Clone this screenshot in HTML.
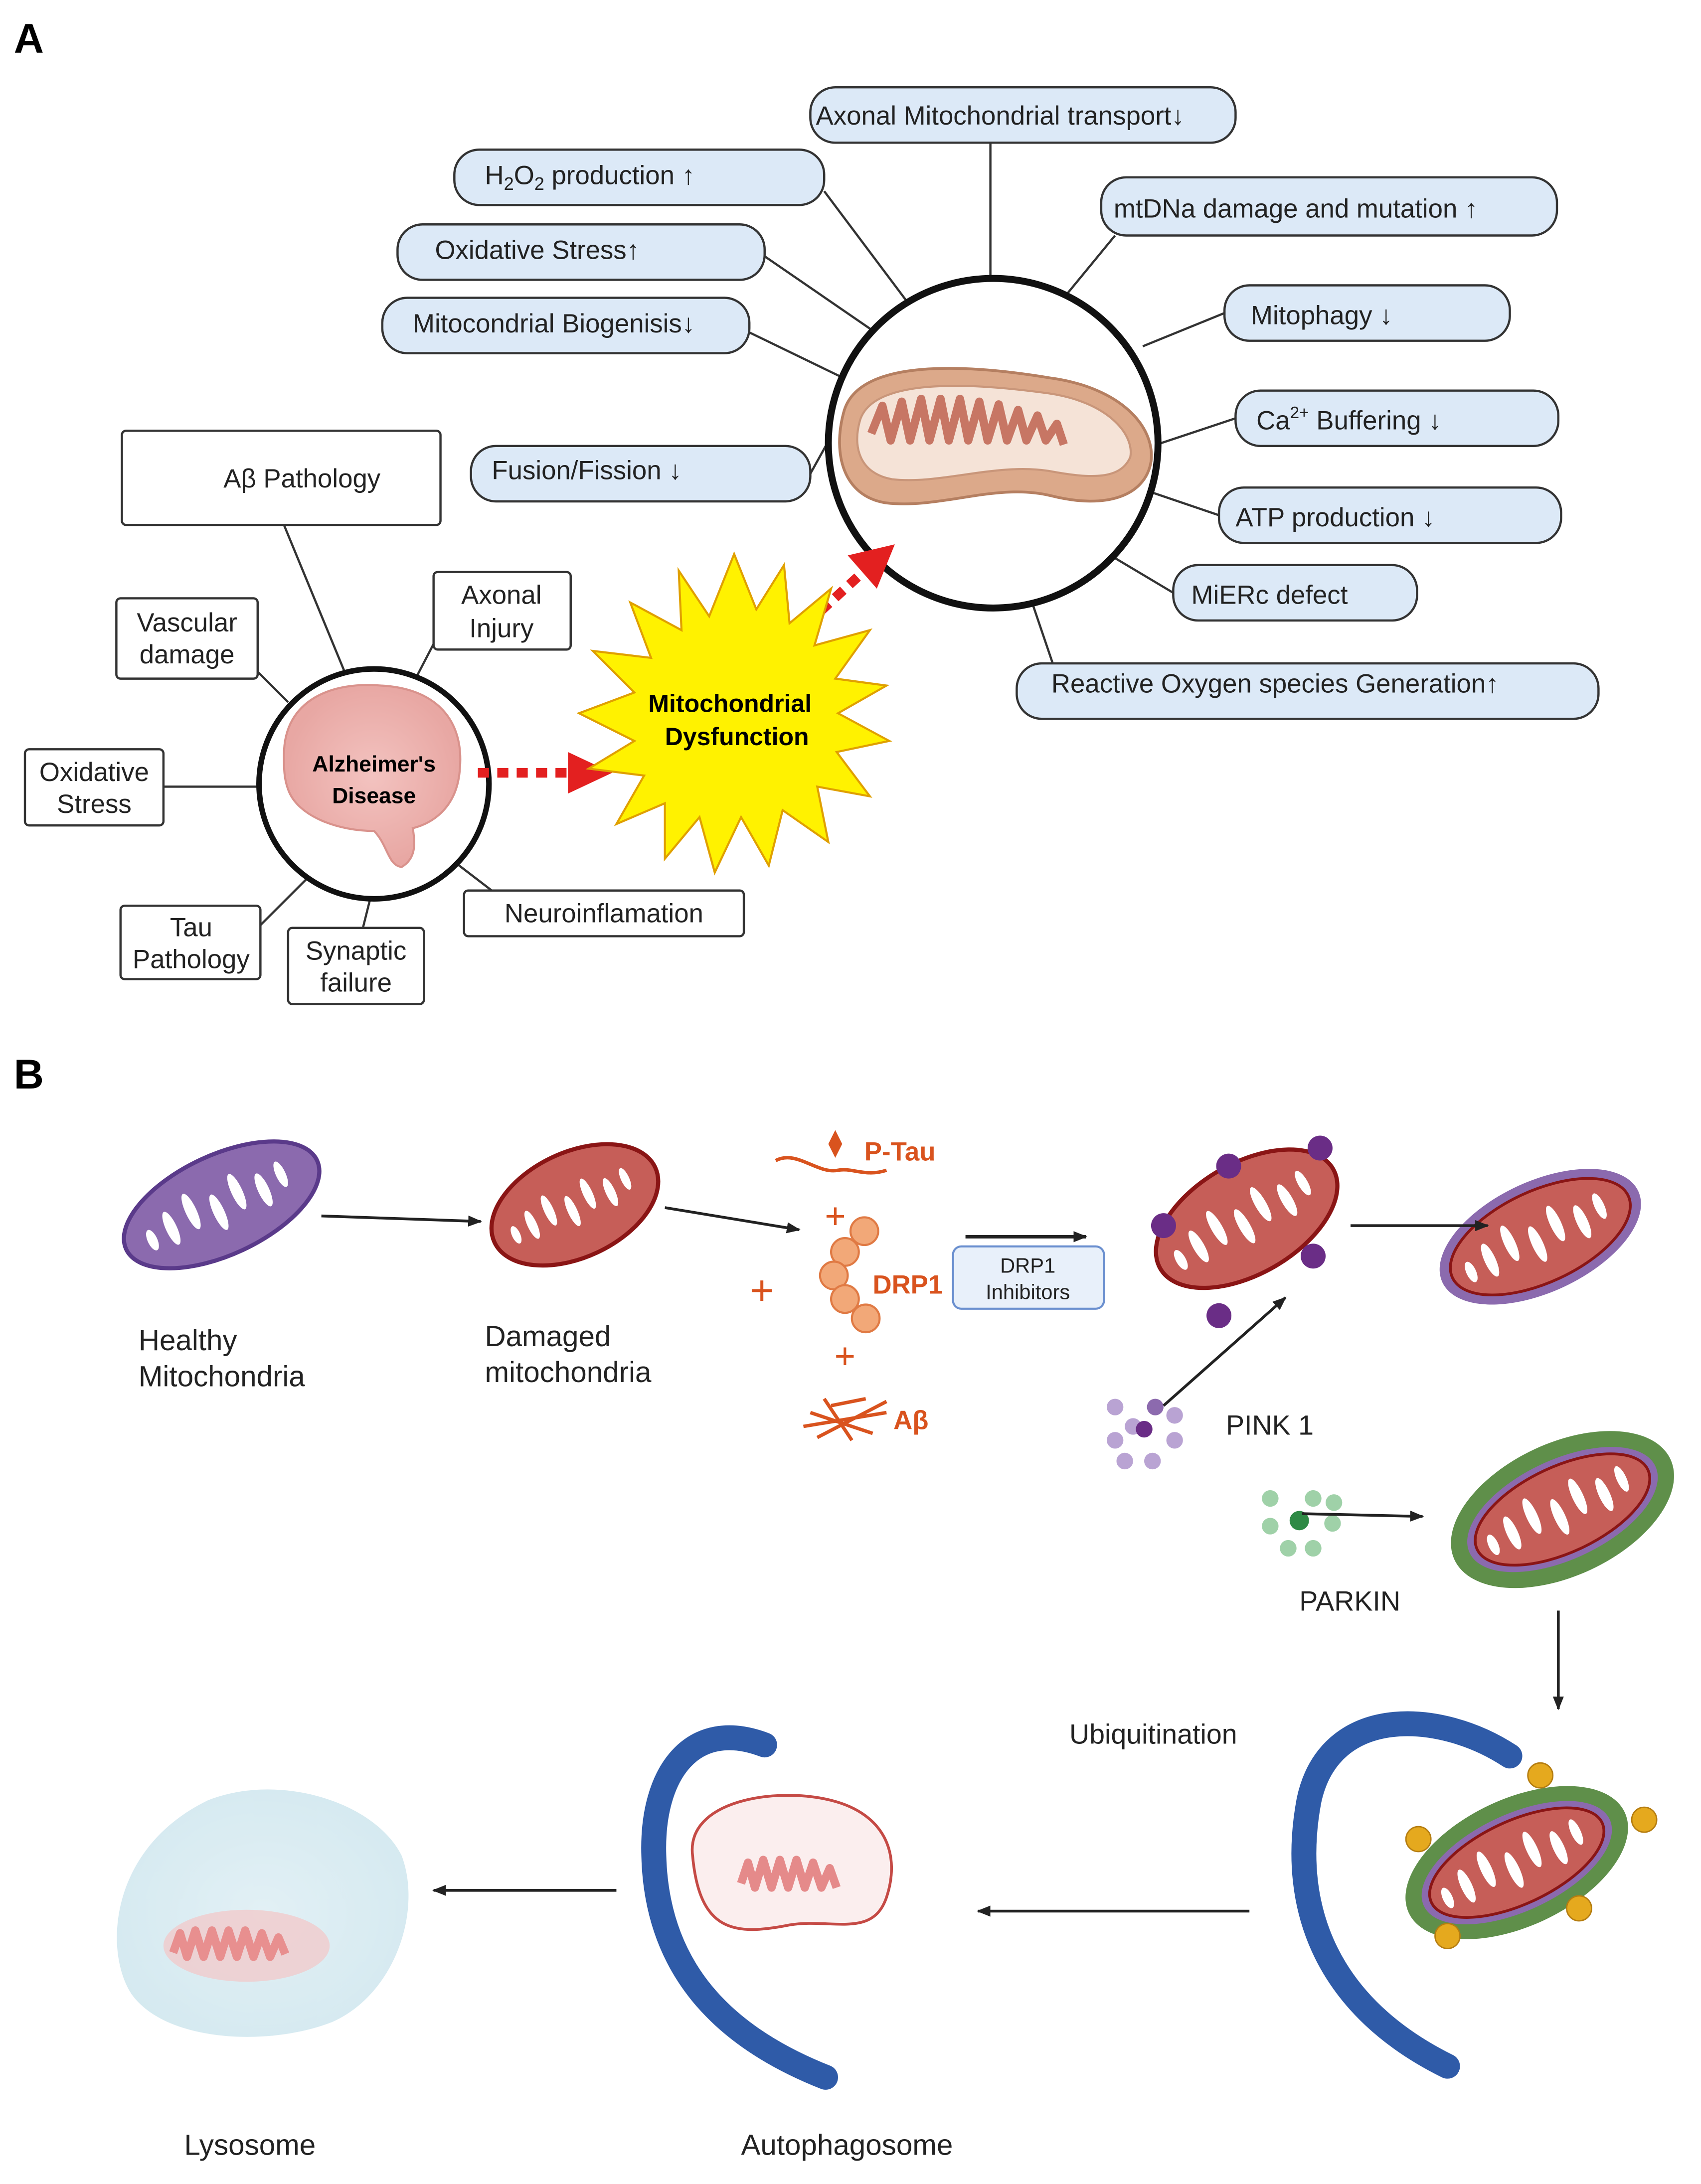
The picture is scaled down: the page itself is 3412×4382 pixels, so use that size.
<!DOCTYPE html>
<html><head><meta charset="utf-8"><style>
html,body{margin:0;padding:0;background:#fff;}
svg{display:block;}
text{font-family:"Liberation Sans",sans-serif;}
</style></head><body>
<svg width="3412" height="4382" viewBox="0 0 1228 1577" xmlns="http://www.w3.org/2000/svg">
<defs>
<marker id="ah" markerWidth="10" markerHeight="8" refX="9" refY="4" orient="auto" markerUnits="userSpaceOnUse"><path d="M0,0 L10,4 L0,8 z" fill="#222"/></marker>
<radialGradient id="lys" cx="50%" cy="50%" r="60%"><stop offset="0" stop-color="#e2f0f5"/><stop offset="1" stop-color="#d4e9f0"/></radialGradient>
<radialGradient id="brain" cx="50%" cy="50%" r="50%"><stop offset="0" stop-color="#f3c3c0"/><stop offset="1" stop-color="#e8a7a3"/></radialGradient>
<g id="spots" fill="#fff">
<ellipse cx="-40" cy="0" rx="4" ry="13"/><ellipse cx="-22" cy="-5" rx="4" ry="14"/><ellipse cx="-4" cy="4" rx="4" ry="14"/><ellipse cx="14" cy="-4" rx="4" ry="14"/><ellipse cx="32" cy="3" rx="4" ry="13"/><ellipse cx="48" cy="-2" rx="3.5" ry="10"/><ellipse cx="-56" cy="2" rx="3.5" ry="8"/>
</g>
</defs>

<text x="10" y="38" font-size="30" font-weight="bold">A</text>

<g stroke="#333" stroke-width="1.6" fill="none">
<line x1="715" y1="103" x2="715" y2="205"/>
<line x1="595" y1="138" x2="658" y2="222"/>
<line x1="552" y1="185" x2="632" y2="240"/>
<line x1="541" y1="240" x2="607" y2="272"/>
<line x1="585" y1="342" x2="600" y2="315"/>
<line x1="805" y1="170" x2="768" y2="215"/>
<line x1="884" y1="226" x2="825" y2="250"/>
<line x1="892" y1="302" x2="838" y2="320"/>
<line x1="880" y1="372" x2="830" y2="355"/>
<line x1="847" y1="428" x2="800" y2="400"/>
<line x1="760" y1="479" x2="740" y2="420"/>
<line x1="205" y1="379" x2="250" y2="488"/>
<line x1="186" y1="485" x2="208" y2="507"/>
<line x1="313" y1="465" x2="300" y2="490"/>
<line x1="118" y1="568" x2="187" y2="568"/>
<line x1="188" y1="668" x2="228" y2="628"/>
<line x1="262" y1="670" x2="270" y2="638"/>
<line x1="355" y1="643" x2="325" y2="620"/>
</g>

<g fill="#dce9f7" stroke="#333" stroke-width="1.6">
<rect x="585" y="63" width="307" height="40" rx="18"/>
<rect x="328" y="108" width="267" height="40" rx="18"/>
<rect x="287" y="162" width="265" height="40" rx="18"/>
<rect x="276" y="215" width="265" height="40" rx="18"/>
<rect x="340" y="322" width="245" height="40" rx="18"/>
<rect x="795" y="128" width="329" height="42" rx="18"/>
<rect x="884" y="206" width="206" height="40" rx="18"/>
<rect x="892" y="282" width="233" height="40" rx="18"/>
<rect x="880" y="352" width="247" height="40" rx="18"/>
<rect x="847" y="408" width="176" height="40" rx="18"/>
<rect x="734" y="479" width="420" height="40" rx="18"/>
</g>
<g font-size="19" fill="#222">
<text x="589" y="90">Axonal Mitochondrial transport↓</text>
<text x="350" y="133">H<tspan font-size="13" dy="4">2</tspan><tspan dy="-4">O</tspan><tspan font-size="13" dy="4">2</tspan><tspan dy="-4"> production        ↑</tspan></text>
<text x="314" y="187">Oxidative Stress↑</text>
<text x="298" y="240">Mitocondrial Biogenisis↓</text>
<text x="355" y="346">Fusion/Fission    ↓</text>
<text x="804" y="157">mtDNa damage and mutation  ↑</text>
<text x="903" y="234">Mitophagy  ↓</text>
<text x="907" y="310">Ca<tspan font-size="12" dy="-8">2+</tspan><tspan dy="8"> Buffering  ↓</tspan></text>
<text x="892" y="380">ATP production  ↓</text>
<text x="860" y="436">MiERc defect</text>
<text x="759" y="500">Reactive Oxygen species Generation↑</text>
</g>

<circle cx="717" cy="320" r="119" fill="#fff" stroke="#111" stroke-width="5"/>
<g transform="translate(719,318)">
<path d="M-110,-20 C-100,-60 -20,-55 40,-45 C90,-38 115,-10 112,15 C108,40 80,50 40,40 C0,30 -40,50 -80,45 C-110,40 -118,10 -110,-20 z" fill="#dca98a" stroke="#b57f61" stroke-width="2"/>
<path d="M-98,-15 C-88,-45 -20,-42 38,-34 C80,-28 100,-5 97,12 C90,28 70,28 38,22 C0,16 -40,32 -75,28 C-98,24 -104,5 -98,-15 z" fill="#f5e3d7" stroke="#c9967a" stroke-width="1.5"/>
<path d="M-90,-5 l8,-20 l6,25 l8,-28 l6,28 l8,-30 l6,30 l8,-30 l6,30 l8,-30 l6,30 l8,-28 l6,28 l8,-26 l6,26 l8,-22 l6,22 l8,-18 l6,18 l8,-12 l5,15" fill="none" stroke="#c77664" stroke-width="6" stroke-linejoin="round"/>
</g>

<circle cx="270" cy="566" r="83" fill="#fff" stroke="#111" stroke-width="4"/>
<path d="M205,545 C205,505 240,492 275,495 C315,497 335,520 332,555 C330,585 310,595 298,598 C300,610 300,620 290,626 C280,625 280,610 270,600 C245,600 215,590 208,570 C205,562 205,555 205,545 z" fill="url(#brain)" stroke="#d9928c" stroke-width="1.5"/>
<text x="270" y="557" font-size="16" font-weight="bold" text-anchor="middle">Alzheimer's</text>
<text x="270" y="580" font-size="16" font-weight="bold" text-anchor="middle">Disease</text>

<g fill="#fff" stroke="#333" stroke-width="1.6">
<rect x="88" y="311" width="230" height="68" rx="3"/>
<rect x="84" y="432" width="102" height="58" rx="3"/>
<rect x="313" y="413" width="99" height="56" rx="3"/>
<rect x="18" y="541" width="100" height="55" rx="3"/>
<rect x="87" y="654" width="101" height="53" rx="3"/>
<rect x="208" y="670" width="98" height="55" rx="3"/>
<rect x="335" y="643" width="202" height="33" rx="3"/>
</g>
<g font-size="19" fill="#222" text-anchor="middle">
<text x="218" y="352">Aβ Pathology</text>
<text x="135" y="456">Vascular</text><text x="135" y="479">damage</text>
<text x="362" y="436">Axonal</text><text x="362" y="460">Injury</text>
<text x="68" y="564">Oxidative</text><text x="68" y="587">Stress</text>
<text x="138" y="676">Tau</text><text x="138" y="699">Pathology</text>
<text x="257" y="693">Synaptic</text><text x="257" y="716">failure</text>
<text x="436" y="666">Neuroinflamation</text>
</g>

<line x1="345" y1="558" x2="412" y2="558" stroke="#e32020" stroke-width="7" stroke-dasharray="8,6"/>
<path d="M410,543 L442,558 L410,573 z" fill="#e32020"/>
<line x1="572" y1="460" x2="622" y2="414" stroke="#e32020" stroke-width="7" stroke-dasharray="8,6"/>
<path d="M612,401 L646,393 L633,425 z" fill="#e32020"/>

<polygon fill="#fff200" stroke="#e0a000" stroke-width="1.5" points="530,400 546,440 566,408 570,450 600,425 588,466 628,455 603,490 640,495 605,515 642,535 604,543 628,575 590,568 598,608 565,585 555,625 535,590 516,630 505,590 480,620 480,580 445,595 465,560 425,555 458,535 418,515 458,500 428,470 470,475 455,435 492,455 490,412 512,445"/>
<text x="527" y="514" font-size="18" font-weight="bold" text-anchor="middle">Mitochondrial</text>
<text x="532" y="538" font-size="18" font-weight="bold" text-anchor="middle">Dysfunction</text>

<text x="10" y="786" font-size="30" font-weight="bold">B</text>

<g transform="translate(160,870) rotate(-25)">
<ellipse rx="76" ry="36" fill="#8b6aae" stroke="#5a3a8a" stroke-width="3"/>
<use href="#spots"/>
</g>
<text x="100" y="975" font-size="21" fill="#222">Healthy</text>
<text x="100" y="1001" font-size="21" fill="#222">Mitochondria</text>
<line x1="232" y1="878" x2="347" y2="882" stroke="#222" stroke-width="2" marker-end="url(#ah)"/>

<g transform="translate(415,870) rotate(-25)">
<ellipse rx="64" ry="38" fill="#c65e58" stroke="#8a1515" stroke-width="3"/>
<use href="#spots" transform="scale(0.85)"/>
</g>
<text x="350" y="972" font-size="21" fill="#222">Damaged</text>
<text x="350" y="998" font-size="21" fill="#222">mitochondria</text>
<line x1="480" y1="872" x2="577" y2="888" stroke="#222" stroke-width="2" marker-end="url(#ah)"/>

<g fill="#d9531e" stroke="none">
<path d="M560,838 C575,830 590,848 605,845 C615,843 625,850 640,845" fill="none" stroke="#d9531e" stroke-width="2.5"/>
<path d="M603,816 l5,10 l-5,10 l-5,-10 z"/>
<text x="624" y="838" font-size="19" font-weight="bold">P-Tau</text>
<text x="603" y="887" font-size="26" text-anchor="middle">+</text>
<text x="550" y="942" font-size="30" text-anchor="middle">+</text>
<g fill="#f2a878" stroke="#e07a44" stroke-width="1.5">
<circle cx="624" cy="889" r="10"/><circle cx="610" cy="904" r="10"/><circle cx="602" cy="921" r="10"/><circle cx="610" cy="938" r="10"/><circle cx="625" cy="952" r="10"/>
</g>
<text x="630" y="934" font-size="19" font-weight="bold">DRP1</text>
<text x="610" y="988" font-size="26" text-anchor="middle">+</text>
<path d="M580,1030 L640,1020 M585,1020 L630,1035 M595,1010 L615,1040 M590,1038 L640,1012 M600,1015 L625,1010" stroke="#d9531e" stroke-width="2.5" fill="none"/>
<text x="645" y="1032" font-size="19" font-weight="bold">Aβ</text>
</g>

<line x1="697" y1="893" x2="784" y2="893" stroke="#222" stroke-width="2.5" marker-end="url(#ah)"/>
<rect x="688" y="900" width="109" height="45" rx="6" fill="#e8f0fa" stroke="#6a8fcf" stroke-width="1.5"/>
<text x="742" y="919" font-size="15" text-anchor="middle" fill="#222">DRP1</text>
<text x="742" y="938" font-size="15" text-anchor="middle" fill="#222">Inhibitors</text>

<g transform="translate(900,880) rotate(-30)">
<ellipse rx="72" ry="40" fill="#c65e58" stroke="#8a1515" stroke-width="3"/>
<use href="#spots"/>
</g>
<g fill="#6a2d86">
<circle cx="887" cy="842" r="9"/><circle cx="953" cy="829" r="9"/><circle cx="840" cy="885" r="9"/><circle cx="948" cy="907" r="9"/><circle cx="880" cy="950" r="9"/>
</g>

<g transform="translate(1112,893) rotate(-25)">
<ellipse rx="78" ry="40" fill="#8b6aae"/>
<ellipse rx="70" ry="33" fill="#c65e58" stroke="#8a1515" stroke-width="2"/>
<use href="#spots"/>
</g>
<line x1="975" y1="885" x2="1074" y2="885" stroke="#222" stroke-width="2" marker-end="url(#ah)"/>

<g fill="#b9a3d3">
<circle cx="805" cy="1016" r="6"/><circle cx="818" cy="1030" r="6"/><circle cx="805" cy="1040" r="6"/><circle cx="848" cy="1022" r="6"/><circle cx="812" cy="1055" r="6"/><circle cx="832" cy="1055" r="6"/><circle cx="848" cy="1040" r="6"/>
</g>
<circle cx="826" cy="1032" r="6" fill="#6a2d86"/><circle cx="834" cy="1016" r="6" fill="#8c6aae"/>
<line x1="840" y1="1015" x2="928" y2="937" stroke="#222" stroke-width="2" marker-end="url(#ah)"/>
<text x="885" y="1036" font-size="20" fill="#222">PINK 1</text>

<g fill="#9fd1a8">
<circle cx="917" cy="1082" r="6"/><circle cx="948" cy="1082" r="6"/><circle cx="963" cy="1085" r="6"/><circle cx="917" cy="1102" r="6"/><circle cx="962" cy="1100" r="6"/><circle cx="930" cy="1118" r="6"/><circle cx="948" cy="1118" r="6"/>
</g>
<circle cx="938" cy="1098" r="7" fill="#2e8a45"/>
<line x1="940" y1="1093" x2="1027" y2="1095" stroke="#222" stroke-width="2" marker-end="url(#ah)"/>
<text x="938" y="1163" font-size="20" fill="#222">PARKIN</text>

<g transform="translate(1128,1090) rotate(-25)">
<ellipse rx="86" ry="48" fill="#5f8f4a"/>
<ellipse rx="74" ry="36" fill="#8b6aae"/>
<ellipse rx="68" ry="31" fill="#c65e58" stroke="#8a1515" stroke-width="2"/>
<use href="#spots"/>
</g>
<line x1="1125" y1="1163" x2="1125" y2="1234" stroke="#222" stroke-width="2" marker-end="url(#ah)"/>
<text x="772" y="1259" font-size="20" fill="#222">Ubiquitination</text>

<path d="M1090,1268 C1040,1235 960,1230 945,1300 C930,1380 960,1450 1045,1492" fill="none" stroke="#2f5ba8" stroke-width="18" stroke-linecap="round"/>
<g transform="translate(1095,1345) rotate(-25)">
<ellipse rx="86" ry="46" fill="#5f8f4a"/>
<ellipse rx="74" ry="35" fill="#8b6aae"/>
<ellipse rx="68" ry="30" fill="#c65e58" stroke="#8a1515" stroke-width="2"/>
<use href="#spots"/>
</g>
<g fill="#e5a91e" stroke="#b57d10" stroke-width="1">
<circle cx="1112" cy="1282" r="9"/><circle cx="1024" cy="1328" r="9"/><circle cx="1187" cy="1314" r="9"/><circle cx="1140" cy="1378" r="9"/><circle cx="1045" cy="1398" r="9"/>
</g>

<line x1="902" y1="1380" x2="706" y2="1380" stroke="#222" stroke-width="2" marker-end="url(#ah)"/>

<path d="M552,1260 C500,1240 470,1280 472,1340 C474,1420 520,1470 596,1500" fill="none" stroke="#2f5ba8" stroke-width="18" stroke-linecap="round"/>
<path d="M500,1340 C495,1300 560,1290 600,1300 C640,1310 650,1340 640,1370 C630,1400 600,1385 570,1390 C530,1398 505,1395 500,1340 z" fill="#fbeeee" stroke="#c54a45" stroke-width="2"/>
<path d="M535,1360 l5,-15 l5,18 l6,-20 l6,20 l6,-20 l6,20 l6,-20 l6,20 l6,-18 l6,18 l6,-14 l5,14" fill="none" stroke="#e58a8a" stroke-width="6" stroke-linejoin="round"/>
<text x="535" y="1556" font-size="21" fill="#222">Autophagosome</text>

<line x1="445" y1="1365" x2="313" y2="1365" stroke="#222" stroke-width="2" marker-end="url(#ah)"/>

<path d="M150,1300 C200,1280 270,1300 290,1340 C305,1380 285,1440 240,1460 C195,1478 120,1475 95,1440 C75,1410 78,1335 150,1300 z" fill="url(#lys)"/>
<ellipse cx="178" cy="1405" rx="60" ry="26" fill="#f4c6c6" opacity="0.7"/>
<path d="M125,1410 l5,-14 l5,17 l6,-19 l6,19 l6,-19 l6,19 l6,-19 l6,19 l6,-19 l6,19 l6,-17 l6,17 l6,-14 l5,12" fill="none" stroke="#e88f8f" stroke-width="6" stroke-linejoin="round"/>
<text x="133" y="1556" font-size="21" fill="#222">Lysosome</text>
</svg>
</body></html>
